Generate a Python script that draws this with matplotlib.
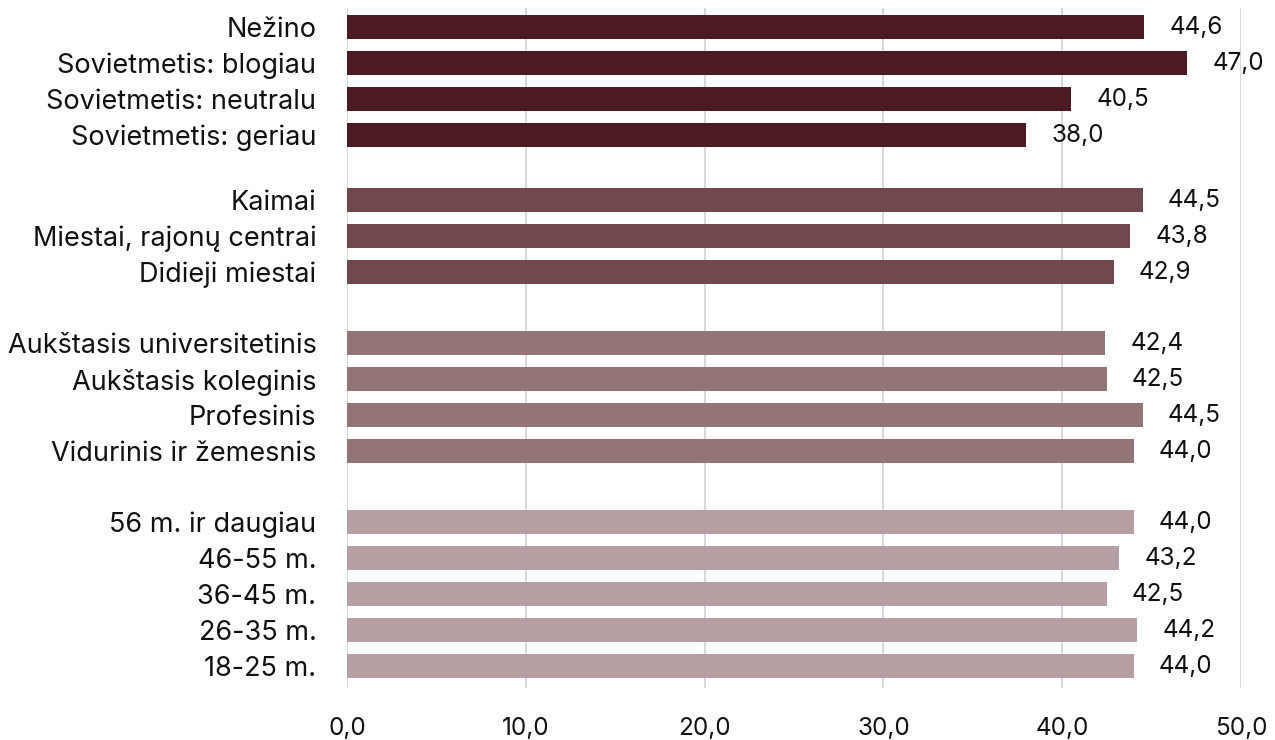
import matplotlib.pyplot as plt

plt.rcParams['font.family'] = ['Inter', 'DejaVu Sans']

# grupės, iš viršaus į apačią
sovietmetis_labels = ['Nežino', 'Sovietmetis: blogiau', 'Sovietmetis: neutralu', 'Sovietmetis: geriau']
sovietmetis_values = [44.6, 47.0, 40.5, 38.0]

gyvenviete_labels = ['Kaimai', 'Miestai, rajonų centrai', 'Didieji miestai']
gyvenviete_values = [44.5, 43.8, 42.9]

issilavinimas_labels = ['Aukštasis universitetinis', 'Aukštasis koleginis', 'Profesinis', 'Vidurinis ir žemesnis']
issilavinimas_values = [42.4, 42.5, 44.5, 44.0]

amzius_labels = ['56 m. ir daugiau', '46-55 m.', '36-45 m.', '26-35 m.', '18-25 m.']
amzius_values = [44.0, 43.2, 42.5, 44.2, 44.0]

x_ticks = [0, 10, 20, 30, 40, 50]

groups = [
    (sovietmetis_labels, sovietmetis_values, '#4C1A22'),
    (gyvenviete_labels, gyvenviete_values, '#71484E'),
    (issilavinimas_labels, issilavinimas_values, '#947577'),
    (amzius_labels, amzius_values, '#B59FA3'),
]
group_gaps = [1.81, 1.97, 1.97]  # tarpai tarp grupių (eilutėmis)

fig = plt.figure(figsize=(12.75, 7.4), dpi=100)
ax = fig.add_axes([347 / 1275, 1 - 688 / 740, (1241 - 347) / 1275, 680 / 740])

pos = 0.0
yticks, ylabels = [], []
for gi, (labels, values, color) in enumerate(groups):
    ys = []
    for i in range(len(labels)):
        ys.append(pos)
        pos += 1
    pos -= 1
    if gi < len(group_gaps):
        pos += group_gaps[gi]
    ax.barh(ys, values, height=0.667, color=color, zorder=3)
    for y, v in zip(ys, values):
        ax.text(v + 1.4, y, f'{v:.1f}'.replace('.', ','), va='center', ha='left',
                fontsize=17.5, color='#111111')
    yticks += ys
    ylabels += labels

ax.set_ylim(pos + 0.61, -0.53)
ax.set_xlim(0, 50)
ax.set_yticks(yticks)
ax.set_yticklabels(ylabels, fontsize=19.5, color='#111111')
ax.set_xticks(x_ticks)
ax.set_xticklabels([f'{t:.1f}'.replace('.', ',') for t in x_ticks], fontsize=17.5, color='#111111')
ax.tick_params(axis='both', length=0)
ax.tick_params(axis='y', pad=22)
ax.tick_params(axis='x', pad=21)
ax.grid(axis='x', color='#d9d9d9', linewidth=1.5, zorder=0)
for s in ax.spines.values():
    s.set_visible(False)

fig.savefig('out.png', dpi=100)
